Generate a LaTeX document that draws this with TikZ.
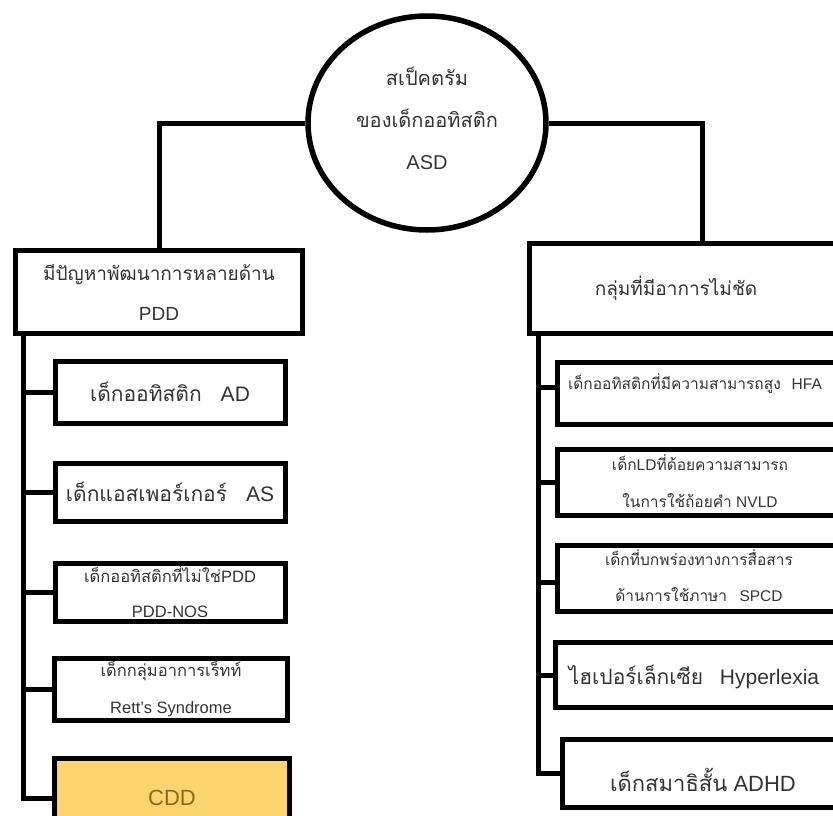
\documentclass[tikz,border=0pt]{standalone}
\usepackage{fontspec}
\setmainfont{Liberation Sans}
\newfontfamily\thf[Script=Thai]{Loma}
\usetikzlibrary{shapes.geometric}

\definecolor{cddfill}{HTML}{FDD56F}
\definecolor{cddtext}{HTML}{8A6A18}

\tikzset{
  box/.style = {draw, line width=5pt, fill=white, text=black!80, align=center, inner sep=0pt},
  txt/.style = {text=black!80, align=center, inner sep=0pt},
  link/.style = {line width=5pt}
}

\begin{document}
\begin{tikzpicture}[x=1pt, y=-1pt]
\useasboundingbox (0,0) rectangle (833,816);
\clip (0,0) rectangle (833,816);

% root
\node[ellipse, draw, line width=5.5pt, text=black!80, align=center, minimum width=238pt, minimum height=214pt,
      font=\fontsize{20}{42}\selectfont] (asd) at (427,123)
  {{\thf สเป็คตรัม}\\{\thf ของเด็กออทิสติก}\\ASD\\[-32pt]\mbox{}};

% two groups
\node[box, minimum width=287pt, minimum height=83pt, font=\fontsize{19}{40}\selectfont] (pdd) at (159,292)
  {{\thf มีปัญหาพัฒนาการหลายด้าน}\\PDD};
\node[box, minimum width=345pt, minimum height=90pt] (grp) at (702,288) {};
\node[txt, font=\fontsize{19}{24}\selectfont] (grptext) at (676,288) {\thf กลุ่มที่มีอาการไม่ชัด};

% left column
\node[box, minimum width=230pt, minimum height=62pt, font=\fontsize{21}{26}\selectfont] (ad) at (170,392)
  {{\thf เด็กออทิสติก}\hspace{0.9em}AD};
\node[box, minimum width=230pt, minimum height=58pt, font=\fontsize{21}{26}\selectfont] (as) at (170,492)
  {{\thf เด็กแอสเพอร์เกอร์}\hspace{0.9em}AS};
\node[box, minimum width=230pt, minimum height=58pt, font=\fontsize{16.5}{35}\selectfont] (nos) at (170,592)
  {{\thf เด็กออทิสติกที่ไม่ใช่}PDD\\PDD-NOS};
\node[box, minimum width=233pt, minimum height=62pt, font=\fontsize{16.5}{37}\selectfont] (rett) at (171,689)
  {{\thf เด็กกลุ่มอาการเร็ทท์}\\Rett's Syndrome};
\node[box, fill=cddfill, text=cddtext, minimum width=235pt, minimum height=80pt, font=\fontsize{22}{26}\selectfont] (cdd) at (172,798)
  {CDD};

% right column: boxes run off the page, texts set on their own
\node[box, minimum width=320pt, minimum height=62pt] (hfa) at (717,393) {};
\node[box, minimum width=320pt, minimum height=66pt] (nvld) at (717,482) {};
\node[box, minimum width=320pt, minimum height=66pt] (spcd) at (717,578) {};
\node[box, minimum width=322pt, minimum height=65pt] (hyp) at (716,675) {};
\node[box, minimum width=315pt, minimum height=68pt] (adhd) at (720,773) {};

\node[txt, font=\fontsize{15.5}{20}\selectfont] (hfatext) at (695,384)
  {{\thf เด็กออทิสติกที่มีความสามารถสูง}\hspace{0.7em}HFA};
\node[txt, font=\fontsize{15.5}{37}\selectfont] (nvldtext) at (700,481)
  {{\thf เด็ก}LD{\thf ที่ด้อยความสามารถ}\\{\thf ในการใช้ถ้อยคำ} NVLD};
\node[txt, font=\fontsize{15.5}{36}\selectfont] (spcdtext) at (699,576)
  {{\thf เด็กที่บกพร่องทางการสื่อสาร}\\{\thf ด้านการใช้ภาษา}\hspace{0.8em}SPCD};
\node[txt, font=\fontsize{21}{26}\selectfont] (hyptext) at (694,677)
  {{\thf ไฮเปอร์เล็กเซีย}\hspace{0.8em}Hyperlexia};
\node[txt, font=\fontsize{22}{26}\selectfont] (adhdtext) at (703,780)
  {{\thf เด็กสมาธิสั้น} ADHD};

% spines
\coordinate (lsp) at (23,335);
\coordinate (rsp) at (538,335);

% connectors
\draw[link] (asd.west) -| (pdd.north);
\draw[link] (asd.east) -| (grp.north);
\draw[link] (lsp) |- (cdd.west);
\draw[link] (lsp) |- (ad.west);
\draw[link] (lsp) |- (as.west);
\draw[link] (lsp) |- (nos.west);
\draw[link] (lsp) |- (rett.west);
\draw[link] (rsp) |- (adhd.west);
\draw[link] (rsp) |- ([yshift=6pt]hfa.west);
\draw[link] (rsp) |- (nvld.west);
\draw[link] (rsp) |- ([yshift=-4pt]spcd.west);
\draw[link] (rsp) |- (hyp.west);
\end{tikzpicture}
\end{document}
